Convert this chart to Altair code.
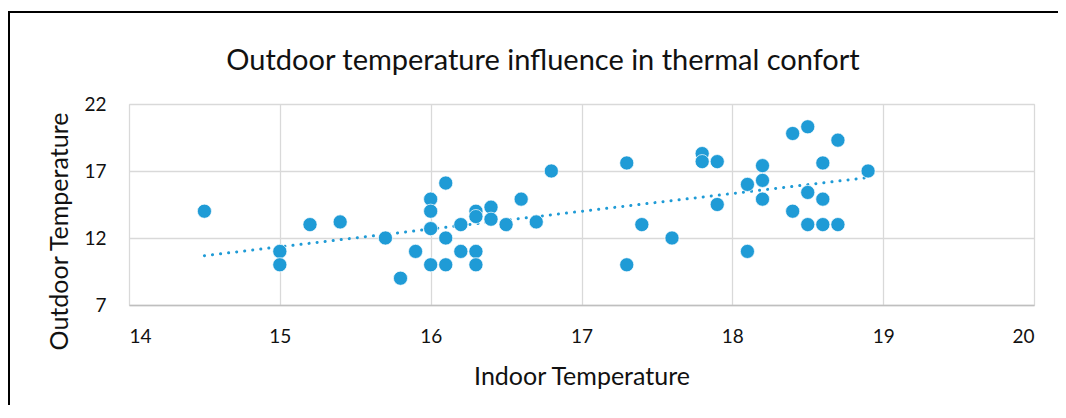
import altair as alt
import pandas as pd

indoor = [14.5, 15.0, 15.0, 15.2, 15.4, 15.7, 15.8, 15.9, 16.0, 16.0, 16.0, 16.0,
          16.1, 16.1, 16.1, 16.2, 16.2, 16.3, 16.3, 16.3, 16.3, 16.4, 16.4, 16.5,
          16.6, 16.7, 16.8, 17.3, 17.3, 17.4, 17.6, 17.8, 17.8, 17.9, 17.9, 18.1,
          18.1, 18.2, 18.2, 18.2, 18.4, 18.4, 18.5, 18.5, 18.5, 18.6, 18.6, 18.6,
          18.7, 18.7, 18.9]
outdoor = [14.0, 11.0, 10.0, 13.0, 13.2, 12.0, 9.0, 11.0, 14.9, 14.0, 12.7, 10.0,
           16.1, 12.0, 10.0, 13.0, 11.0, 14.0, 13.6, 11.0, 10.0, 14.3, 13.4, 13.0,
           14.9, 13.2, 17.0, 17.6, 10.0, 13.0, 12.0, 18.3, 17.7, 17.7, 14.5, 16.0,
           11.0, 17.4, 16.3, 14.9, 19.8, 14.0, 20.3, 15.4, 13.0, 17.6, 14.9, 13.0,
           19.3, 13.0, 17.0]

x_ticks = [14, 15, 16, 17, 18, 19, 20]
y_ticks = [7, 12, 17, 22]
title_text = ["Outdoor temperature influence in thermal confort"]

df = pd.DataFrame({"Indoor": indoor, "Outdoor": outdoor})
title_df = pd.DataFrame({"title": title_text})

FONT = "Lato"
BLUE = "#1F9BD6"
W, H = 905, 201
PAD_L, PAD_T, PAD_R, PAD_B = 121, 96, 24, 100

x_enc = alt.X(
    "Indoor:Q",
    scale=alt.Scale(domain=[14, 20], nice=False, zero=False),
    axis=alt.Axis(
        values=x_ticks, format="d", title="Indoor Temperature", ticks=False,
        labelPadding=22, labelFontSize=19, labelFont=FONT, labelColor="#111111",
        titleFont=FONT, titleFontSize=25, titleFontWeight="normal", titleColor="#111111",
        titleBaseline="alphabetic", titleY=79,
        grid=True, gridColor="#D9D9D9", gridWidth=1.3,
        domain=True, domainColor="#BFBFBF", domainWidth=1.5,
    ),
)
y_enc = alt.Y(
    "Outdoor:Q",
    scale=alt.Scale(domain=[7, 22], nice=False, zero=False),
    axis=alt.Axis(
        values=y_ticks, format="d", title="Outdoor Temperature", ticks=False,
        labelPadding=23, labelFontSize=19, labelFont=FONT, labelColor="#111111",
        titleFont=FONT, titleFontSize=25, titleFontWeight="normal", titleColor="#111111",
        titleBaseline="alphabetic", titleX=-62, titleY=127,
        grid=True, gridColor="#D9D9D9", gridWidth=1.3, domain=False,
    ),
)

points = alt.Chart(df).mark_circle(
    size=200, color=BLUE, opacity=1, stroke="white", strokeWidth=0.7
).encode(x=x_enc, y=y_enc)

trend = alt.Chart(df).transform_regression("Indoor", "Outdoor").mark_line(
    color=BLUE, strokeWidth=3, strokeDash=[0.1, 8], strokeCap="round"
).encode(x="Indoor:Q", y="Outdoor:Q")

frame_top = alt.Chart(title_df).mark_rule(color="black", strokeWidth=2, clip=False).encode(
    x=alt.value(-PAD_L), x2=alt.value(W + PAD_R), y=alt.value(12 - 8 - PAD_T)
)
frame_left = alt.Chart(title_df).mark_rule(color="black", strokeWidth=2, clip=False).encode(
    x=alt.value(-PAD_L + 1), y=alt.value(12 - 8 - PAD_T), y2=alt.value(H + PAD_B)
)

title = alt.Chart(title_df).mark_text(
    font=FONT, fontSize=29, color="#111111", align="center",
    baseline="alphabetic", clip=False,
).encode(
    text="title:N",
    x=alt.value(543 - 8 - PAD_L),
    y=alt.value(70 - 8 - PAD_T),
)

chart = alt.layer(trend, points, frame_top, frame_left, title).properties(
    width=W, height=H,
    autosize=alt.AutoSizeParams(type="none"),
    padding={"left": PAD_L, "top": PAD_T, "right": PAD_R, "bottom": PAD_B},
).configure_view(stroke="#D9D9D9", strokeWidth=1.3).configure(background="white")

chart.save("out.html", embed_options={"renderer": "svg", "actions": False})
